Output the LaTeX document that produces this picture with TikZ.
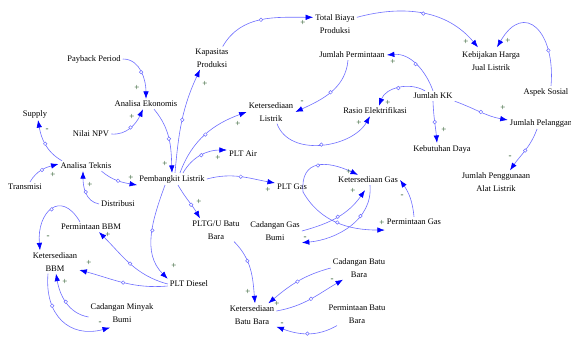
\documentclass[tikz,border=0pt]{standalone}
\usepackage{fontspec}
\setmainfont{Liberation Serif}
\usepackage{tikz}
\usetikzlibrary{arrows.meta}
\definecolor{linkblue}{RGB}{110,110,255}
\definecolor{signgreen}{RGB}{30,80,30}

\begin{document}
\begin{tikzpicture}[x=1pt,y=1pt,
    var/.style={font=\fontsize{8.5}{13}\selectfont,align=center,inner sep=2pt},
    link/.style={draw=linkblue,line width=0.6pt,-{Latex[length=7.5pt,width=5.5pt,color=blue]}},
    hd/.style={circle,draw=linkblue,fill=white,inner sep=0pt,minimum size=3.6pt,line width=0.5pt},
    sg/.style={font=\fontsize{9}{10}\selectfont,inner sep=0pt,text=signgreen}]
\useasboundingbox (0,0) rectangle (571,-342);

\node[var] (biaya) at (335,-24) {Total Biaya\\Produksi};
\node[var] (kapasitas) at (212,-58) {Kapasitas\\Produksi};
\node[var] (payback) at (94,-59) {Payback Period};
\node[var] (permintaan) at (352,-55) {Jumlah Permintaan};
\node[var] (kebijakan) at (491,-61) {Kebijakan Harga\\Jual Listrik};
\node[var] (ekonomis) at (146,-104) {Analisa Ekonomis};
\node[var] (jkk) at (433,-96) {Jumlah KK};
\node[var] (aspek) at (546,-92) {Aspek Sosial};
\node[var] (supply) at (35,-114) {Supply};
\node[var] (npv) at (91,-134) {Nilai NPV};
\node[var] (ksl) at (271,-112) {Ketersediaan\\Listrik};
\node[var] (rasio) at (375,-111) {Rasio Elektrifikasi};
\node[var] (pelanggan) at (541,-123) {Jumlah Pelanggan};
\node[var] (daya) at (442,-149) {Kebutuhan Daya};
\node[var] (alat) at (496,-182) {Jumlah Penggunaan\\Alat Listrik};
\node[var] (teknis) at (86,-166) {Analisa Teknis};
\node[var] (pembangkit) at (172,-179) {Pembangkit Listrik};
\node[var] (pltair) at (243,-154) {PLT Air};
\node[var] (transmisi) at (25,-187) {Transmisi};
\node[var] (distribusi) at (118,-204) {Distribusi};
\node[var] (pltgas) at (292,-187) {PLT Gas};
\node[var] (ksgas) at (368,-180) {Ketersediaan Gas};
\node[var] (mintabbm) at (91,-227) {Permintaan BBM};
\node[var] (pltgu) at (216,-230) {PLTG/U Batu\\Bara};
\node[var] (cgas) at (275,-231) {Cadangan Gas\\Bumi};
\node[var] (mintagas) at (414,-222) {Permintaan Gas};
\node[var] (ksbbm) at (55,-262) {Ketersediaan\\BBM};
\node[var] (pltd) at (189,-284) {PLT Diesel};
\node[var] (cbara) at (359,-268) {Cadangan Batu\\Bara};
\node[var] (ksbara) at (252,-315) {Ketersediaan\\Batu Bara};
\node[var] (mintabara) at (357,-314) {Permintaan Batu\\Bara};
\node[var] (cminyak) at (122,-313) {Cadangan Minyak\\Bumi};

\draw[link] (payback.east) to[out=0,in=90] node[hd]{} (ekonomis.north);
\draw[link] (npv.east) to[out=-5,in=-115] node[hd]{} ([xshift=-3pt]ekonomis.south);
\draw[link] ([xshift=8pt]ekonomis.south) to[out=-50,in=92] node[hd]{} (pembangkit.north);
\draw[link] ([xshift=3pt]pembangkit.north) to[out=85,in=-115] node[hd]{} ([xshift=-12pt]kapasitas.south);
\draw[link] ([xshift=-8pt]kapasitas.north east) to[out=60,in=180] node[hd]{} ([yshift=-5pt]biaya.north west);
\draw[link] ([yshift=-5pt]biaya.north east) to[out=15,in=130] node[hd]{} ([xshift=-13pt,yshift=2pt]kebijakan.north);
\draw[link] ([xshift=5pt]aspek.north) to[out=85,in=60,looseness=2.1] node[hd,pos=0.25]{} ([xshift=6pt,yshift=2pt]kebijakan.north);
\draw[link] (jkk.north) to[out=110,in=5] node[hd]{} (permintaan.east);
\draw[link] ([xshift=-4pt]permintaan.south) to[out=-95,in=25] node[hd]{} (ksl.east);
\draw[link] ([xshift=-8pt]jkk.north) to[out=150,in=70] node[hd]{} ([xshift=4pt]rasio.north);
\draw[link] ([xshift=6pt]ksl.south) to[out=-70,in=-120] node[hd]{} ([xshift=-5pt]rasio.south);
\draw[link] ([xshift=8pt]pembangkit.north) to[out=70,in=200] node[hd]{} (ksl.west);
\draw[link] ([xshift=11pt]pembangkit.north) to[out=60,in=180] node[hd]{} ([yshift=4pt]pltair.west);
\draw[link] (pembangkit.east) to[out=15,in=170] node[hd]{} ([yshift=4pt]pltgas.west);
\draw[link] ([xshift=6pt]pembangkit.south) to[out=-60,in=120] node[hd,pos=0.6]{} ([xshift=-16pt]pltgu.north);
\draw[link] ([xshift=-7pt]pembangkit.south) to[out=-110,in=135] node[hd,pos=0.45]{} (pltd.north west);
\draw[link] ([xshift=-12pt]teknis.south east) to[out=-40,in=170] node[hd]{} (pembangkit.south west);
\draw[link] ([xshift=5pt]transmisi.north) to[out=60,in=195] node[hd]{} ([yshift=2pt]teknis.west);
\draw[link] (distribusi.west) to[out=170,in=-90] node[hd]{} ([xshift=-3pt]teknis.south);
\draw[link] ([xshift=-24pt]teknis.north) to[out=150,in=-80] node[hd]{} ([xshift=3pt]supply.south);
\draw[link] (jkk.south) to[out=-88,in=95] node[hd]{} ([xshift=-5pt]daya.north);
\draw[link] (jkk.south east) to[out=-20,in=170] node[hd]{} ([yshift=3pt]pelanggan.west);
\draw[link] ([xshift=-4pt]pelanggan.south) to[out=-110,in=55] node[hd]{} ([xshift=14pt]alat.north);
\draw[link] ([xshift=-6pt]pltgas.south east) to[out=95,in=155,looseness=1.5] node[hd]{} ([xshift=-10pt]ksgas.north);
\draw[link] ([xshift=-6pt]pltgas.south east) to[out=-60,in=180] node[hd]{} ([yshift=-3pt]mintagas.south west);
\draw[link] (mintagas.north) to[out=95,in=-55] (ksgas.east);
\draw[link] (cgas.east) to[out=15,in=-125] node[hd]{} ([xshift=-3pt,yshift=-5pt]ksgas.south);
\draw[link] ([xshift=2pt]ksgas.south) to[out=-85,in=5] node[hd,pos=0.35]{} (cgas.south east);
\draw[link] ([xshift=18pt]pltgu.south) to[out=-45,in=95] node[hd,pos=0.35]{} ([xshift=3pt]ksbara.north);
\draw[link] (cbara.west) to[out=195,in=40] node[hd]{} ([xshift=-8pt]ksbara.north east);
\draw[link] ([yshift=4pt]ksbara.east) to[out=10,in=-150] node[hd]{} ([xshift=-16pt]cbara.south);
\draw[link] ([xshift=-20pt]mintabara.south) to[out=-150,in=-20] node[hd]{} (ksbara.south east);
\draw[link] (pltd.west) to[out=165,in=-45] node[hd]{} ([xshift=8pt]mintabbm.south);
\draw[link] ([yshift=-2pt]pltd.west) to[out=185,in=-15] node[hd]{} ([yshift=-8pt]ksbbm.east);
\draw[link] ([xshift=-11pt]mintabbm.north) to[out=120,in=95,looseness=2] node[hd]{} ([xshift=-15pt]ksbbm.north);
\draw[link] ([yshift=-4pt]cminyak.west) to[out=170,in=-80] node[hd]{} ([xshift=1pt]ksbbm.south);
\draw[link] ([xshift=-7pt]ksbbm.south) to[out=-95,in=195,looseness=1.3] node[hd,pos=0.3]{} ([xshift=-12pt,yshift=-3pt]cminyak.south);

\foreach \x/\y/\s [count=\i] in {137/88/+,132/117/+,165/164/+,205/84/+,303/23/+,
    466/42/+,508/41/+,393/62/+,302/102/-,388/103/+,359/123/+,238/124/+,218/158/+,
    268/190/+,199/202/+,174/266/+,131/178/+,53/175/+,90/185/+,47/130/-,444/130/+,
    503/108/+,510/157/-,349/172/+,353/191/+,382/223/+,402/196/-,305/238/-,
    248/292/+,277/304/+,332/280/-,282/324/-,108/235/+,89/263/+,48/237/-,
    65/282/+,100/323/-}
  \node[sg] (sg\i) at (\x,-\y) {\s};
\end{tikzpicture}
\end{document}
